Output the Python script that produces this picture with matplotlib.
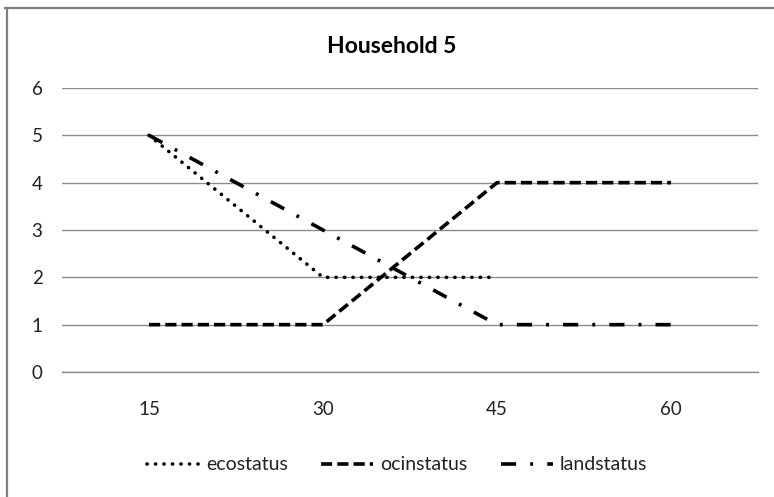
import numpy as np
import matplotlib
matplotlib.use("Agg")
import matplotlib.pyplot as plt
from matplotlib.lines import Line2D

plt.rcParams['font.family'] = ['Lato', 'DejaVu Sans']

categories = ["15", "30", "45", "60"]
ecostatus = [5, 2, 2, np.nan]
ocinstatus = [1, 1, 4, 4]
landstatus = [5, 3, 1, 1]
yticks = [0, 1, 2, 3, 4, 5, 6]

W, H = 774, 497
fig = plt.figure(figsize=(W / 100, H / 100), dpi=100)
ax = fig.add_axes([62 / W, (H - 372) / H, (758 - 62) / W, (372 - 88) / H])

x = np.arange(len(categories))
lw = 2.6
ax.plot(x, ecostatus, color='black', lw=lw, linestyle=(0, (0.05, 2.3)),
        dash_capstyle='round', label='ecostatus')
ax.plot(x, ocinstatus, color='black', lw=lw, linestyle=(0, (3.1, 1.4)),
        dash_capstyle='butt', label='ocinstatus')
ax.plot(x, landstatus, color='black', lw=lw, linestyle=(0, (4.2, 3.9, 0.8, 3.9)),
        dash_capstyle='butt', label='landstatus')

ax.set_xlim(-0.5, len(categories) - 0.5)
ax.set_ylim(0, 6)
ax.set_yticks(yticks)
ax.set_xticks(x)
ax.set_xticklabels(categories)
ax.grid(axis='y', color='#8c8c8c', lw=1.0)
ax.set_axisbelow(True)
for s in ['top', 'right', 'left']:
    ax.spines[s].set_visible(False)
ax.spines['bottom'].set_color('#8c8c8c')
ax.spines['bottom'].set_linewidth(1.0)
ax.tick_params(axis='both', length=0, labelsize=13.5, colors='#222222')
ax.tick_params(axis='y', pad=14)
ax.tick_params(axis='x', pad=21)

fig.text(392 / W, (H - 53) / H, "Household 5", ha='center', va='baseline',
         fontsize=16.5, fontweight='bold', color='black')

leg = fig.legend(loc='center', bbox_to_anchor=(397 / W, (H - 465) / H), ncol=3,
                 frameon=False, fontsize=14, handlelength=2.7, handletextpad=0.35,
                 columnspacing=1.7, labelcolor='#222222')

# chart area border (top and left edges)
fig.add_artist(Line2D([5 / W, 1.0], [(H - 8) / H, (H - 8) / H], color='#7f7f7f', lw=1.6))
fig.add_artist(Line2D([7 / W, 7 / W], [0.0, (H - 8) / H], color='#7f7f7f', lw=1.6))

fig.savefig("out.png", dpi=100)
